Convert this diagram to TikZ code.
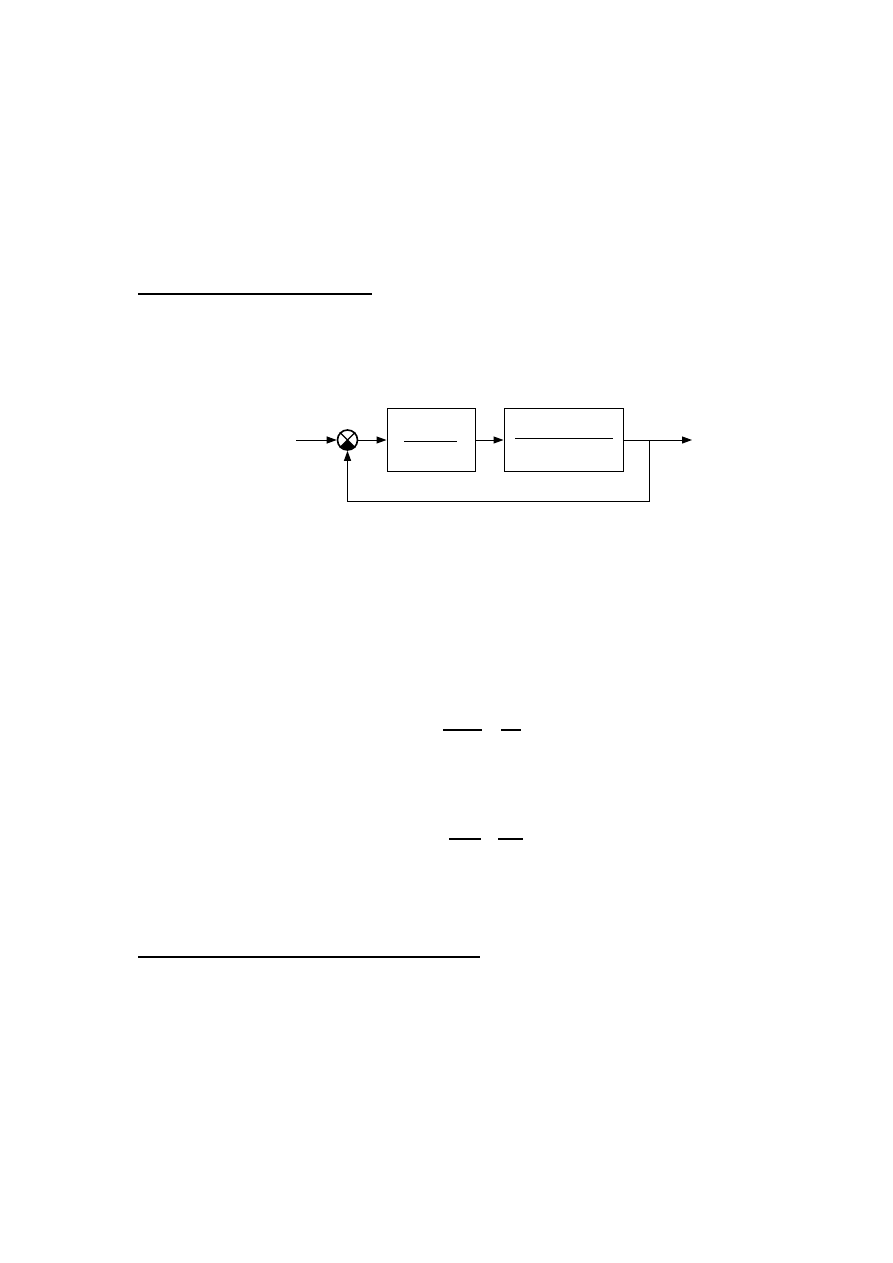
\documentclass[tikz,border=0pt]{standalone}
\usetikzlibrary{arrows.meta}
\begin{document}
\begin{tikzpicture}[x=1pt,y=-1pt,
  blk/.style={draw, line width=1pt, inner sep=0pt, minimum height=63pt},
  sumj/.style={draw, circle, line width=1.6pt, inner sep=0pt, minimum size=20pt},
  conn/.style={line width=1pt, -{Triangle[length=10pt,width=7pt]}},
  plain/.style={line width=1pt},
  rule/.style={line width=2pt},
  fracbar/.style={line width=1.2pt}]
\useasboundingbox (0,0) rectangle (893,1263);
% section rules
\draw[rule] (138,294) -- (372,294);
\draw[rule] (138,957) -- (480,957);
% block diagram
\node[sumj] (s) at (347.5,440) {};
\node[blk, minimum width=88pt] (b1) at (431,440) {};
\node[blk, minimum width=119pt] (b2) at (563.5,440) {};
\coordinate (in) at (296,440);
\coordinate (out) at (692,440);
\coordinate (br) at (649.5,440);
\coordinate (brd) at (649.5,501);
\draw[line width=1.4pt] (s.45) -- (s.-135);
\draw[line width=1.4pt] (s.135) -- (s.-45);
\fill (s.center) -- ++(45:9.5) arc[start angle=45,end angle=135,radius=9.5] -- cycle;
\draw[conn] (in) -- (s.west);
\draw[conn] (s.east) -- (b1.west);
\draw[conn] (b1.east) -- (b2.west);
\draw[conn] (b2.east) -- (out);
\draw[conn] (br) -- (brd) -| (s.south);
% fraction bars inside blocks
\draw[plain] (404,441) -- (457,441);
\draw[plain] (515,438) -- (613,438);
% fraction bars of equations
\draw[fracbar] (443,730) -- (482,730);
\draw[fracbar] (501,730) -- (521,730);
\draw[fracbar] (449,839) -- (481,839);
\draw[fracbar] (498,839) -- (523,839);
\end{tikzpicture}
\end{document}
